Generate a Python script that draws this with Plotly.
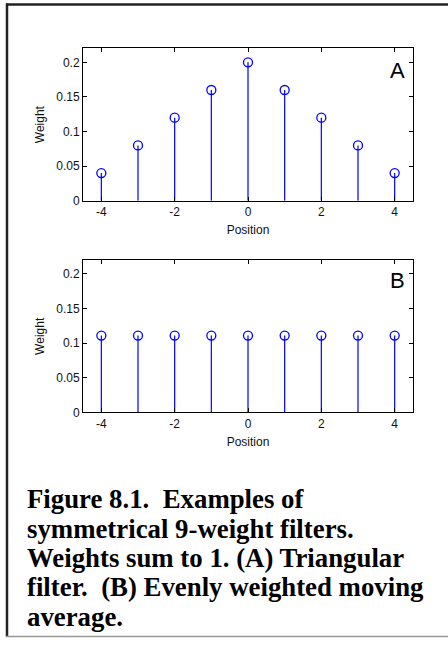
import plotly.graph_objects as go

positions = [-4, -3, -2, -1, 0, 1, 2, 3, 4]
weights_a = [0.04, 0.08, 0.12, 0.16, 0.20, 0.16, 0.12, 0.08, 0.04]
weights_b = [1/9] * 9
y_tickvals = [0, 0.05, 0.1, 0.15, 0.2]
y_ticktext = ["0", "0.05", "0.1", "0.15", "0.2"]
x_tickvals = [-4, -2, 0, 2, 4]
x_ticktext = ["-4", "-2", "0", "2", "4"]
panel_labels = ["A", "B"]
caption = ["Figure 8.1.&nbsp; Examples of",
           "symmetrical 9-weight filters.",
           "Weights sum to 1. (A) Triangular",
           "filter.&nbsp; (B) Evenly weighted moving",
           "average."]

W, H = 448, 645
fig = go.Figure()

BLUE = "#0000FF"

def stems(xs, ys):
    sx, sy = [], []
    for x, y in zip(xs, ys):
        sx += [x, x, None]
        sy += [0, y, None]
    return sx, sy

for i, ys in enumerate([weights_a, weights_b]):
    xa = "x" if i == 0 else "x2"
    ya = "y" if i == 0 else "y2"
    sx, sy = stems(positions, ys)
    fig.add_trace(go.Scatter(x=sx, y=sy, mode="lines", xaxis=xa, yaxis=ya,
                             line=dict(color=BLUE, width=1.2), hoverinfo="skip",
                             showlegend=False))
    fig.add_trace(go.Scatter(x=positions, y=ys, mode="markers", xaxis=xa, yaxis=ya,
                             marker=dict(symbol="circle-open", size=9,
                                         color=BLUE, line=dict(width=1.3, color=BLUE)),
                             showlegend=False))

def px_x(p):
    return p / W

def px_y(p):
    return 1 - p / H

xdom = [px_x(83), px_x(413)]
doms = [[px_y(203), px_y(49)], [px_y(417), px_y(263)]]

axfont = dict(family="Liberation Sans, Arial, sans-serif", size=12, color="#111")
common_x = dict(range=[-4.5, 4.5], tickmode="array", tickvals=x_tickvals, ticktext=x_ticktext,
                ticks="inside", ticklen=4, tickcolor="#000", showline=True, linecolor="#000",
                linewidth=1, mirror="ticks", showgrid=False, zeroline=False, tickfont=axfont,
                title=dict(text="Position", font=axfont, standoff=7), domain=xdom)
common_y = dict(range=[0, 0.22], tickmode="array", tickvals=y_tickvals, ticktext=y_ticktext,
                ticks="inside", ticklen=4, tickcolor="#000", showline=True, linecolor="#000",
                linewidth=1, mirror="ticks", showgrid=False, zeroline=False, tickfont=axfont,
                title=dict(text="Weight", font=axfont, standoff=9))

fig.update_layout(
    width=W, height=H, margin=dict(l=0, r=0, t=0, b=0),
    paper_bgcolor="white", plot_bgcolor="white",
    xaxis=dict(common_x, anchor="y"),
    yaxis=dict(common_y, domain=doms[0], anchor="x"),
    xaxis2=dict(common_x, anchor="y2"),
    yaxis2=dict(common_y, domain=doms[1], anchor="x2"),
)

for i, lab in enumerate(panel_labels):
    fig.add_annotation(xref="paper", yref="paper", x=px_x(397), y=px_y(71 if i == 0 else 284),
                       xanchor="center", yanchor="middle",
                       text=lab, showarrow=False,
                       font=dict(family="Liberation Sans, Arial, sans-serif", size=22, color="#000"))

for j, line in enumerate(caption):
    fig.add_annotation(xref="paper", yref="paper", x=px_x(25), y=px_y(504.5 + 29.8 * j),
                       xanchor="left", yanchor="middle", text="<b>" + line + "</b>", showarrow=False,
                       font=dict(family="Liberation Serif, Times New Roman, serif", size=26.8, color="#000"))

# page frame
fig.add_shape(type="line", xref="paper", yref="paper", x0=px_x(6), x1=1, y0=px_y(4.5), y1=px_y(4.5),
              line=dict(color="#222", width=2.5))
fig.add_shape(type="line", xref="paper", yref="paper", x0=px_x(7), x1=px_x(7), y0=px_y(3.5), y1=px_y(644),
              line=dict(color="#222", width=2.5))
fig.add_shape(type="line", xref="paper", yref="paper", x0=px_x(6), x1=1, y0=px_y(643.5), y1=px_y(643.5),
              line=dict(color="#999", width=1.5))

fig.write_html("out.html", config={"displayModeBar": False},
               post_script="document.body.style.margin='0px';document.body.style.overflow='hidden';")
